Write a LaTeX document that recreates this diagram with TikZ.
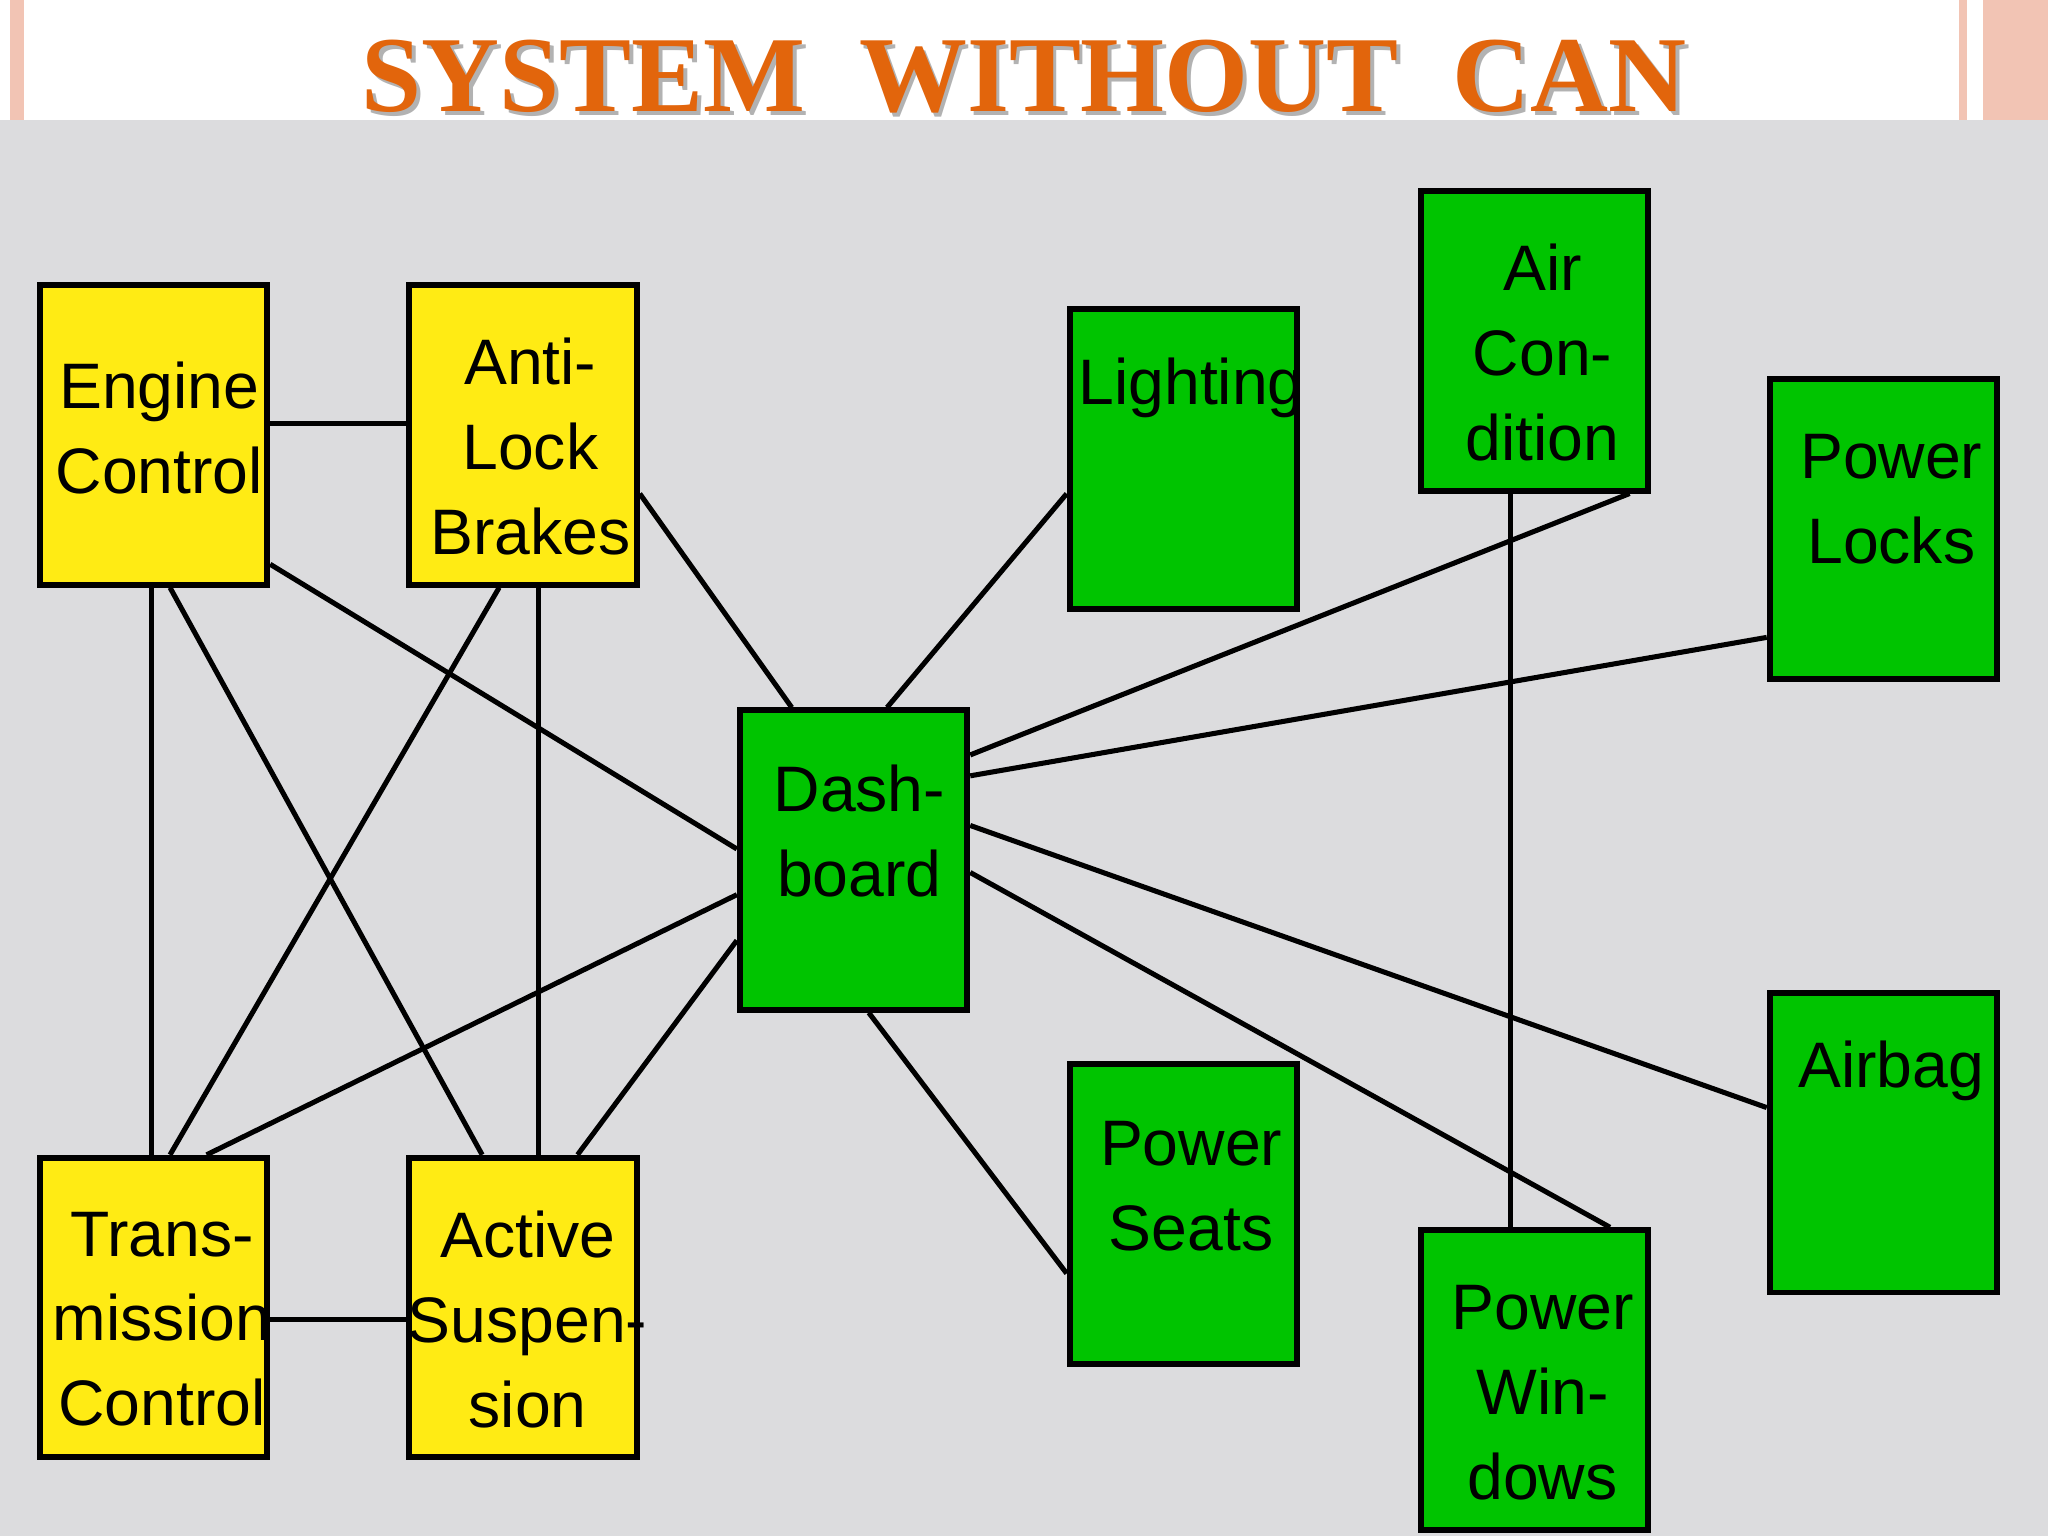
\documentclass[tikz,border=0pt]{standalone}
\usepackage{fontspec}
\setmainfont{Liberation Sans}
\newfontfamily\titlefont{Liberation Serif}
\usetikzlibrary{calc}
\definecolor{bg}{HTML}{DCDCDE}
\definecolor{yel}{HTML}{FFEB14}
\definecolor{grn}{HTML}{00C400}
\definecolor{org}{HTML}{E2650C}
\definecolor{pinkl}{HTML}{F2C4B4}
\begin{document}
\begin{tikzpicture}[x=0.01cm,y=-0.01cm,
 box/.style={draw=black,line width=1.3pt,minimum width=1.74cm,minimum height=2.29cm,inner sep=0pt},
 yb/.style={box,fill=yel},
 gb/.style={box,fill=grn},
 lbl/.style={align=center,font=\fontsize{14}{18.5}\selectfont,inner sep=0pt},
 wire/.style={line width=1.1pt}]
\useasboundingbox (0,0) rectangle (1568,1176);
\fill[white] (0,0) rectangle (1568,92);
\fill[bg] (0,92) rectangle (1568,1176);
\fill[pinkl] (8,0) rectangle (18,92);
\fill[pinkl] (1500,0) rectangle (1506,92);
\fill[pinkl] (1518,0) rectangle (1568,92);
\node[text=gray!60,font=\titlefont\bfseries\fontsize{23.5}{26}\selectfont] at (787,62) {SYSTEM\ \ WITHOUT\ \ CAN};
\node[text=org,font=\titlefont\bfseries\fontsize{23.5}{26}\selectfont] (title) at (784,59) {SYSTEM\ \ WITHOUT\ \ CAN};

\node[yb] (eng) at (117.5,333) {};
\node[yb] (abs) at (400.5,333) {};
\node[yb] (trans) at (117.5,1001) {};
\node[yb] (act) at (400.5,1001) {};
\node[gb] (dash) at (653.5,658.5) {};
\node[gb] (light) at (906,351.5) {};
\node[gb] (air) at (1175,261) {};
\node[gb] (locks) at (1442,405) {};
\node[gb] (airbag) at (1442,875) {};
\node[gb] (seats) at (906,929.5) {};
\node[gb] (win) at (1175,1056.5) {};

\node[lbl] at (122,328) {Engine\\Control};
\node[lbl] at (406,342) {Anti-\\Lock\\Brakes};
\node[lbl] at (124,1010) {Trans-\\mission\\Control};
\node[lbl] at (404,1010) {Active\\Suspen-\\sion};
\node[lbl] at (658,636) {Dash-\\board};
\node[lbl] at (912,297) {Lighting};
\node[lbl] at (1181,270) {Air\\Con-\\dition};
\node[lbl] at (1448,382) {Power\\Locks};
\node[lbl] at (1448,820) {Airbag};
\node[lbl] at (912,908) {Power\\Seats};
\node[lbl] at (1181,1066) {Power\\Win-\\dows};

\begin{scope}[wire]
\draw (eng.east |- 0,324) -- (abs.west |- 0,324);
\draw (abs.east |- 0,378) -- ($(dash.north west)+(42,0)$);
\draw (light.west |- 0,378) -- ($(dash.north west)+(115,0)$);
\draw ($(air.south west)+(162,0)$) -- (dash.east |- 0,578);
\draw (locks.west |- 0,488) -- (dash.east |- 0,594);
\draw (eng.east |- 0,432) -- (dash.west |- 0,650);
\draw (dash.east |- 0,632) -- (airbag.west |- 0,848);
\draw (dash.east |- 0,668) -- ($(win.north west)+(147,0)$);
\draw (dash.west |- 0,685) -- ($(trans.north west)+(130,0)$);
\draw (dash.west |- 0,720) -- ($(act.north west)+(131,0)$);
\draw ($(dash.south west)+(101,0)$) -- (seats.west |- 0,975);
\draw ($(air.south west)+(71,0)$) -- ($(win.north west)+(71,0)$);
\draw ($(eng.south west)+(88,0)$) -- ($(trans.north west)+(88,0)$);
\draw ($(eng.south west)+(102,0)$) -- ($(act.north west)+(58,0)$);
\draw ($(abs.south west)+(71,0)$) -- ($(trans.north west)+(102,0)$);
\draw ($(abs.south west)+(101,0)$) -- ($(act.north west)+(101,0)$);
\draw (trans.east |- 0,1010) -- (act.west |- 0,1010);
\end{scope}
\end{tikzpicture}
\end{document}
